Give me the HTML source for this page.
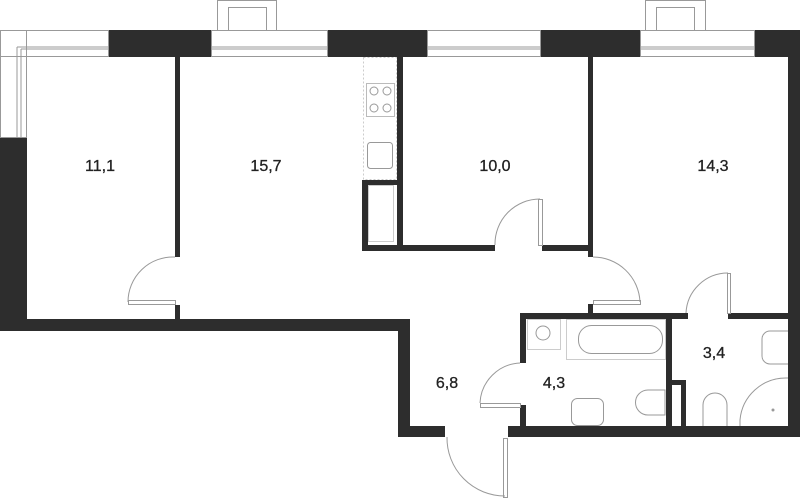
<!DOCTYPE html>
<html><head><meta charset="utf-8"><style>
html,body{margin:0;padding:0;background:#fff;width:800px;height:498px;overflow:hidden}
text{font-family:"Liberation Sans",sans-serif;font-size:16px;fill:#222;stroke:#222;stroke-width:0.3}
</style></head><body>
<svg width="800" height="498" viewBox="0 0 800 498" xmlns="http://www.w3.org/2000/svg">
<g fill="#2d2d2d">
<rect x="109" y="30" width="102" height="27"/>
<rect x="328" y="30" width="99" height="27"/>
<rect x="541" y="30" width="99" height="27"/>
<rect x="755" y="30" width="45" height="27"/>
<rect x="788" y="30" width="12" height="407"/>
<rect x="0" y="138" width="27" height="193"/>
<rect x="0" y="319" width="410" height="12"/>
<rect x="398" y="319" width="12" height="118"/>
<rect x="398" y="426" width="47" height="11"/>
<rect x="508" y="426" width="292" height="11"/>
<rect x="175" y="57" width="5" height="200"/>
<rect x="175" y="305" width="5" height="14"/>
<rect x="362" y="180" width="41" height="5"/>
<rect x="362" y="180" width="6" height="71"/>
<rect x="397" y="57" width="6" height="194"/>
<rect x="362" y="245" width="133" height="6"/>
<rect x="542" y="245" width="51" height="6"/>
<rect x="588" y="57" width="5" height="200"/>
<rect x="588" y="304" width="5" height="15"/>
<rect x="520" y="313" width="168" height="6"/>
<rect x="728" y="313" width="60" height="6"/>
<rect x="520" y="313" width="6" height="50"/>
<rect x="520" y="405" width="6" height="32"/>
<rect x="666" y="319" width="6" height="107"/>
<rect x="670" y="380" width="16" height="5"/>
<rect x="681" y="380" width="5" height="46"/>
</g>
<g fill="none" stroke="#999" stroke-width="1">
<rect x="0.5" y="30.5" width="108" height="26"/>
<rect x="0.5" y="30.5" width="26" height="107"/>
<path d="M17 47 H108 M17 47 V137 M21 49 H108 M21 49 V137"/>
<rect x="211.5" y="30.5" width="116" height="26"/>
<path d="M212 47 H327 M212 49 H327"/>
<rect x="427.5" y="30.5" width="113" height="26"/>
<path d="M428 47 H540 M428 49 H540"/>
<rect x="640.5" y="30.5" width="114" height="26"/>
<path d="M641 47 H754 M641 49 H754"/>
<rect x="217.5" y="0.5" width="59" height="30"/>
<rect x="228.5" y="7.5" width="38" height="23"/>
<rect x="645.5" y="0.5" width="60" height="30"/>
<rect x="656.5" y="7.5" width="38" height="23"/>
<path d="M175 257 A45 45 0 0 0 128 302"/><rect x="128.5" y="300.5" width="47" height="4"/>
<path d="M495 245 A45 45 0 0 1 540 199"/><rect x="538.5" y="199.5" width="4" height="46"/>
<path d="M593 257 A47 47 0 0 1 640 302"/><rect x="593.5" y="300.5" width="47" height="4"/>
<path d="M686 313 A42 42 0 0 1 728 273"/><rect x="727.5" y="273.5" width="3" height="40"/>
<path d="M520 363 A42 42 0 0 0 480 403"/><rect x="480.5" y="403.5" width="40" height="4"/>
<path d="M447 437 A58 58 0 0 0 505 496"/><rect x="503.5" y="438.5" width="4" height="59"/>
<rect x="363.5" y="57.5" width="33" height="122" stroke="#ccc" stroke-dasharray="2 2"/>
<rect x="366.5" y="83.5" width="28" height="33" stroke="#bbb"/>
<circle cx="374" cy="91" r="4"/><circle cx="387" cy="91" r="4"/><circle cx="374" cy="108" r="4"/><circle cx="387" cy="108" r="4"/>
<rect x="367.5" y="142.5" width="25" height="26" rx="3"/>
<rect x="368.5" y="185.5" width="25" height="56" stroke="#ccc"/>
<rect x="527.5" y="319.5" width="33" height="30" stroke="#ccc"/>
<circle cx="543" cy="333" r="7"/>
<rect x="566.5" y="319.5" width="99" height="40" stroke="#ccc"/>
<rect x="578.5" y="325.5" width="84" height="28" rx="13"/>
<rect x="571.5" y="398.5" width="32" height="27" rx="6"/>
<path d="M665 390 H648 A12 12 0 0 0 648 415 H665 Z"/>
<path d="M788 331 H770 A8 8 0 0 0 762 339 V356 A8 8 0 0 0 770 364 H788"/>
<path d="M703 426 V405 A12 12 0 0 1 727 405 V426"/>
<path d="M740 426 V420 A46 46 0 0 1 786 378 H788"/>
</g>
<circle cx="773" cy="410" r="1.5" fill="#999"/>
<text x="100" y="171" text-anchor="middle">11,1</text>
<text x="266" y="171" text-anchor="middle">15,7</text>
<text x="495" y="171" text-anchor="middle">10,0</text>
<text x="713" y="171" text-anchor="middle">14,3</text>
<text x="714" y="358" text-anchor="middle">3,4</text>
<text x="554" y="388" text-anchor="middle">4,3</text>
<text x="447" y="388" text-anchor="middle">6,8</text>
</svg>
</body></html>
